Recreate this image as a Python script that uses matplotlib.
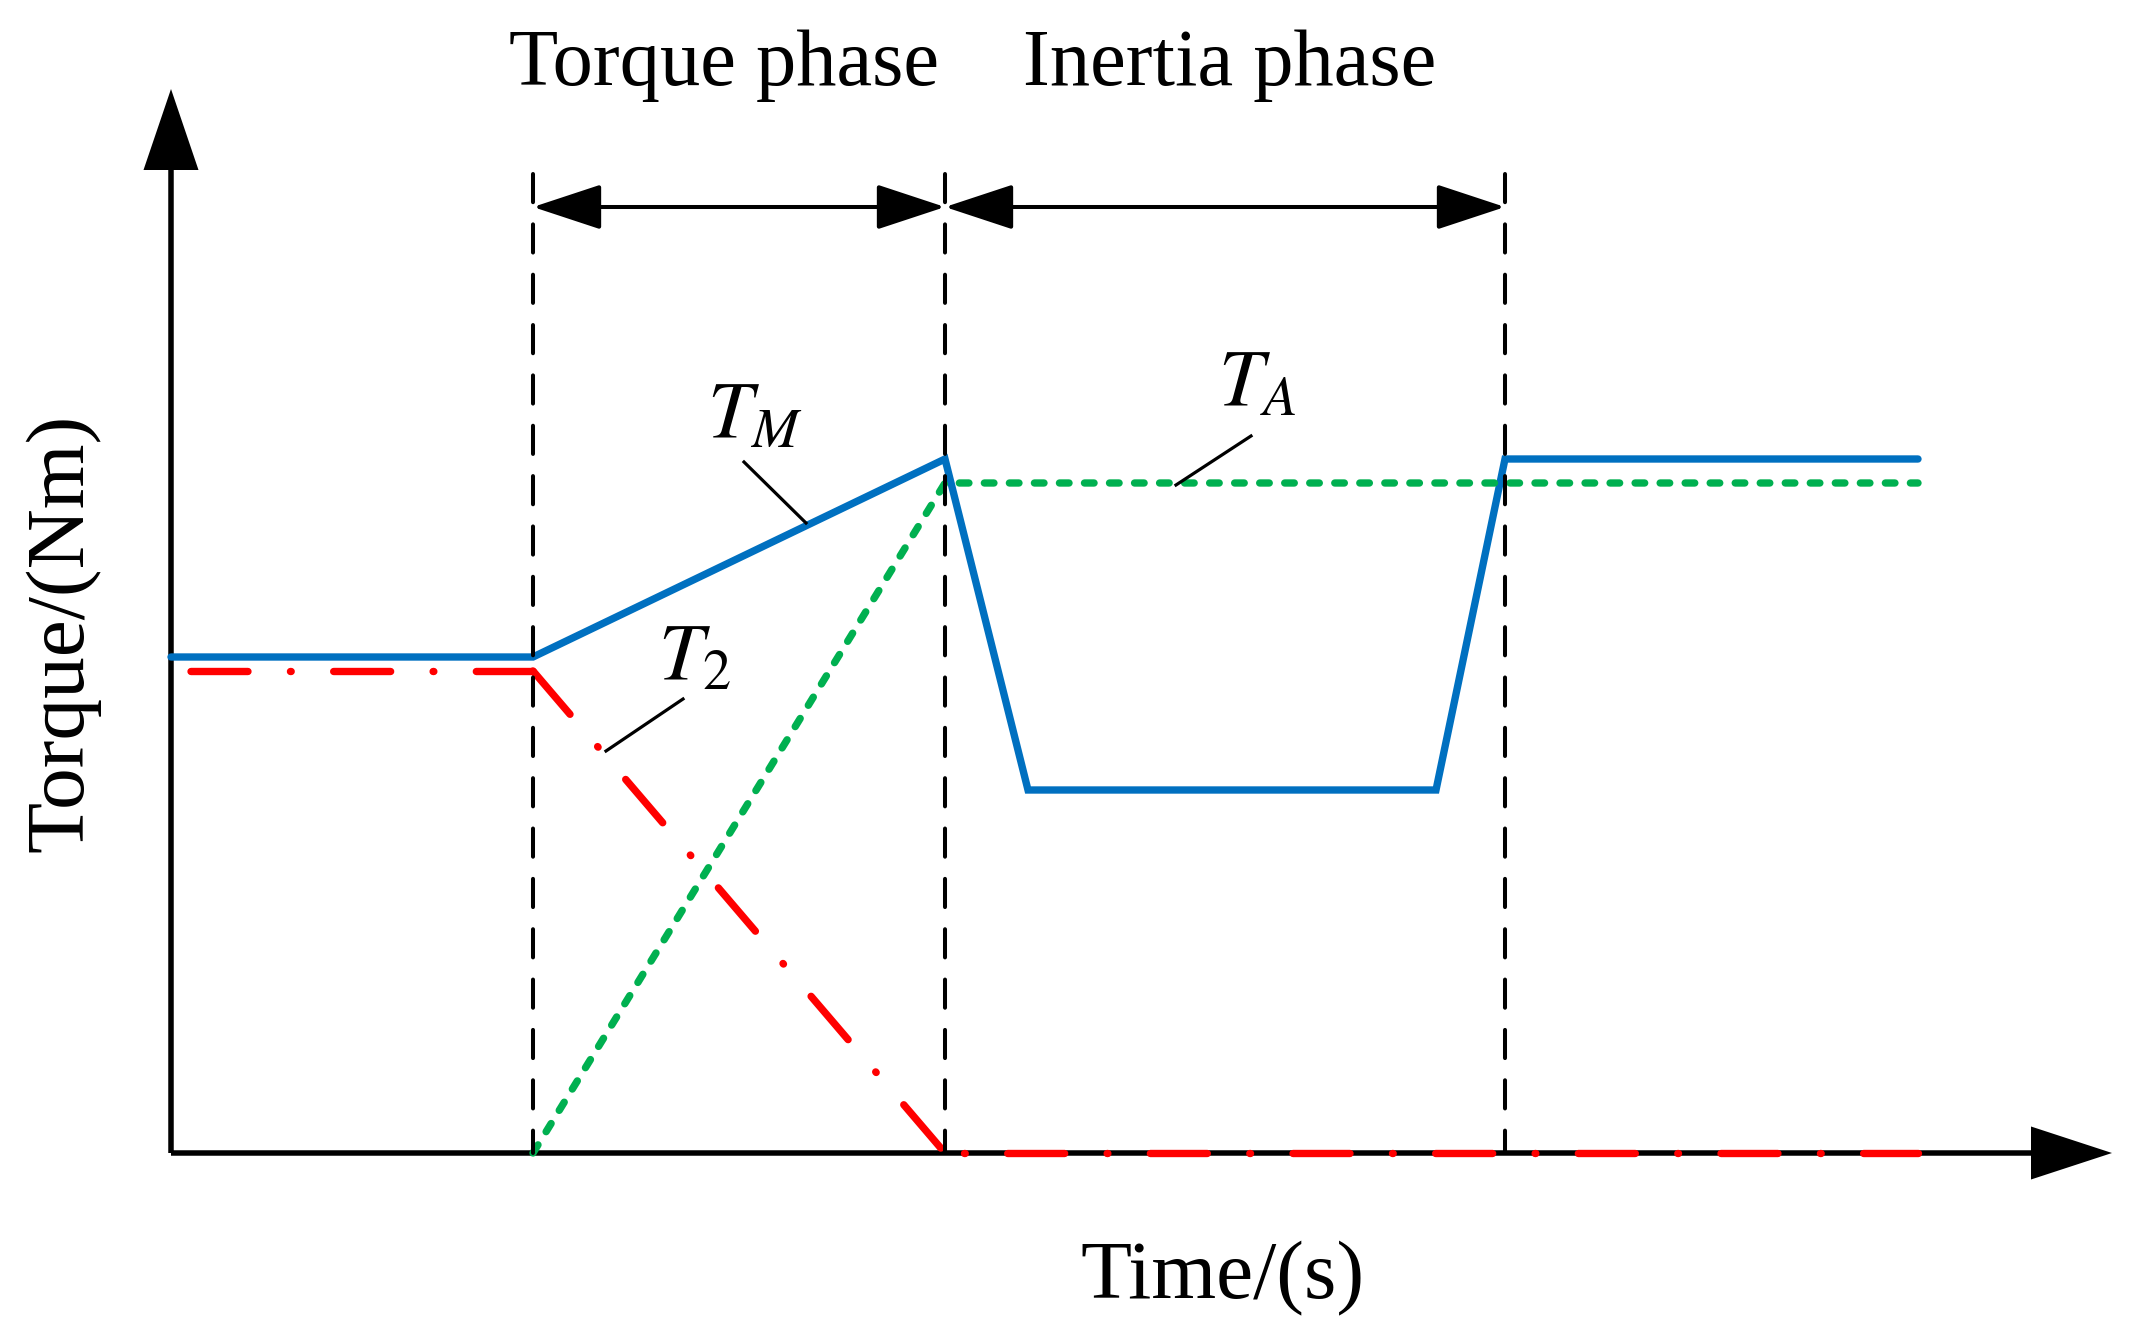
import matplotlib
matplotlib.use('Agg')
import matplotlib.pyplot as plt

plt.rcParams['font.family'] = ['Liberation Serif', 'DejaVu Serif']
plt.rcParams['mathtext.fontset'] = 'stix'

# schematic data (arbitrary time / torque units)
phase_t = [3.62, 7.74, 13.34]          # start torque phase, start inertia phase, end inertia phase
phase_names = ['Torque phase', 'Inertia phase']

tm_t = [0.0, 3.62, 7.74, 8.57, 12.65, 13.34, 17.47]
tm_y = [4.96, 4.96, 6.94, 3.63, 3.63, 6.94, 6.94]

ta_t = [3.62, 7.74, 17.47]
ta_y = [0.0, 6.70, 6.70]

t2_t = [0.0, 3.62, 7.74, 17.47]
t2_y = [4.82, 4.82, 0.0, 0.0]

t_max = 19.41        # x-axis arrow tip
y_max = 10.64        # y-axis arrow tip
dash_top = 9.79
arrow_y = 9.46

blue = '#0070C0'
green = '#00B050'
red = '#FF0000'
lw = 5.3

fig = plt.figure(figsize=(21.33, 13.32), dpi=100)
ax = fig.add_axes([0, 0, 1, 1])
ax.set_xlim(-1.71, 19.62)
ax.set_ylim(-1.79, 11.53)
ax.axis('off')

# axes with arrow heads
ax.arrow(0, 0, 0, y_max, width=0.055, head_width=0.55, head_length=0.81,
         length_includes_head=True, fc='k', ec='k', lw=0, zorder=2)
ax.arrow(0, 0, t_max, 0, width=0.055, head_width=0.53, head_length=0.81,
         length_includes_head=True, fc='k', ec='k', lw=0, zorder=2)

# torque curves
ax.plot(tm_t, tm_y, color=blue, lw=lw, solid_capstyle='round',
        solid_joinstyle='miter', zorder=3)
ax.plot(ta_t, ta_y, color=green, lw=lw, linestyle=(0, (1.3, 2.1)),
        dash_capstyle='round', zorder=4)

# T2 drawn per segment so the dash-dot pattern restarts like the original
t2_pattern = (7.74, 5.77, 0.1, 5.77)
t2_offsets = [16.73, 0.0, 10.93]
for i in range(len(t2_t) - 1):
    ax.plot(t2_t[i:i + 2], t2_y[i:i + 2], color=red, lw=lw,
            linestyle=(t2_offsets[i], t2_pattern), dash_capstyle='round', zorder=5)

# phase boundaries
for t in phase_t:
    ax.plot([t, t], [dash_top, 0], color='k', lw=2.9,
            linestyle=(0, (7, 5.5)), dash_capstyle='round', zorder=6)

# phase arrows and titles
for i, name in enumerate(phase_names):
    a, b = phase_t[i], phase_t[i + 1]
    ax.annotate('', xy=(b, arrow_y), xytext=(a, arrow_y),
                arrowprops=dict(arrowstyle='<|-|>,head_length=1.0,head_width=0.33',
                                mutation_scale=43, color='k', lw=2.9,
                                shrinkA=0, shrinkB=0), zorder=6)
ax.text(5.53, 10.68, phase_names[0], fontsize=58, ha='center', va='baseline')
ax.text(10.59, 10.68, phase_names[1], fontsize=58, ha='center', va='baseline')

# curve labels with leader lines
labels = [r'$T_M$', r'$T_2$', r'$T_A$']
label_xy = [(5.84, 7.35), (5.24, 4.93), (10.86, 7.67)]
leaders = [((5.73, 6.91), (6.35, 6.30)),
           ((5.12, 4.54), (4.35, 4.02)),
           ((10.80, 7.17), (10.05, 6.68))]
for lab, (x, y), (p0, p1) in zip(labels, label_xy, leaders):
    ax.text(x, y, lab, fontsize=58, ha='center', va='center')
    ax.plot([p0[0], p1[0]], [p0[1], p1[1]], color='k', lw=2.3, zorder=7)

# axis titles
ax.text(10.52, -1.45, 'Time/(s)', fontsize=60, ha='center', va='baseline')
ax.text(-0.89, 5.20, 'Torque/(Nm)', fontsize=60, ha='center', va='baseline',
        rotation=90, rotation_mode='anchor')

fig.savefig('out.png', dpi=100)
